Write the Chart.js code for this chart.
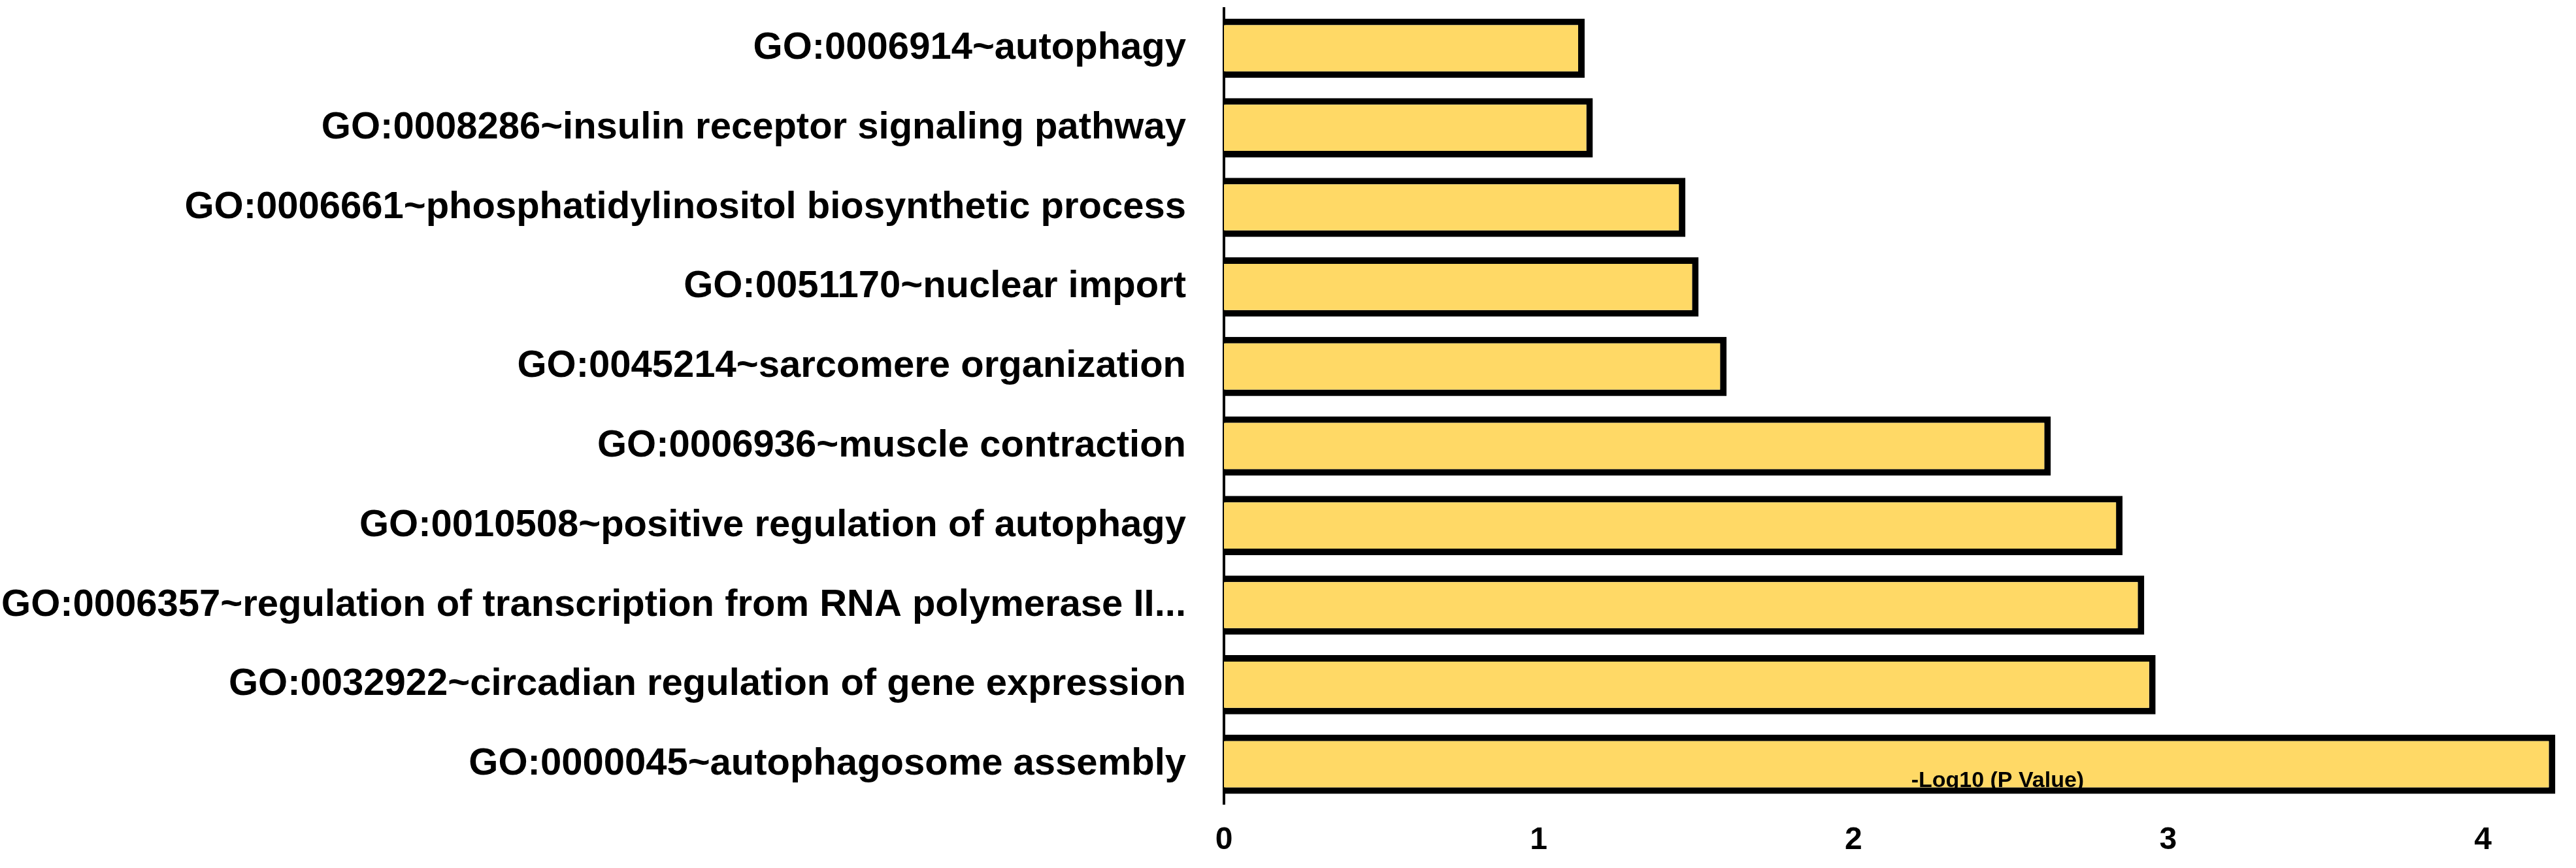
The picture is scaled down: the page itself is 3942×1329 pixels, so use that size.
<!DOCTYPE html>
<html>
<head>
<meta charset="utf-8">
<script src="https://cdn.jsdelivr.net/npm/chart.js@4"></script>
<style>
  html, body { margin: 0; padding: 0; background: #fff; }
  #wrap { width: 3942px; height: 1329px; }
</style>
</head>
<body>
<div id="wrap"><canvas id="chart"></canvas></div>
<script>
const terms = [
  "GO:0006914~autophagy",
  "GO:0008286~insulin receptor signaling pathway",
  "GO:0006661~phosphatidylinositol biosynthetic process",
  "GO:0051170~nuclear import",
  "GO:0045214~sarcomere organization",
  "GO:0006936~muscle contraction",
  "GO:0010508~positive regulation of autophagy",
  "GO:0006357~regulation of transcription from RNA polymerase II...",
  "GO:0032922~circadian regulation of gene expression",
  "GO:0000045~autophagosome assembly"
];
const logP = [1.146, 1.172, 1.466, 1.508, 1.597, 2.627, 2.855, 2.924, 2.96, 4.23];
const xTicks = [0, 1, 2, 3, 4];
const axisTitle = "-Log10 (P Value)";

const FONT = "'Liberation Sans', Arial, sans-serif";

// axis title sits inside the plot, over the last bar, like the original
const titlePlugin = {
  id: 'inlineTitle',
  afterDatasetsDraw(chart) {
    const ctx = chart.ctx;
    const x = chart.scales.x.getPixelForValue(2.458);
    const y = chart.chartArea.bottom - 35;
    ctx.save();
    ctx.font = "bold 34px " + FONT;
    ctx.fillStyle = '#000';
    ctx.textAlign = 'center';
    ctx.textBaseline = 'middle';
    ctx.fillText(axisTitle, x, y);
    ctx.restore();
  }
};

const ctx = document.getElementById("chart").getContext('2d');
const chart = new Chart(ctx, {
  type: 'bar',
  data: {
    labels: terms,
    datasets: [{
      label: axisTitle,
      data: logP,
      backgroundColor: '#FFD966',
      borderColor: '#000000',
      borderWidth: 10,
      borderSkipped: 'left',
      categoryPercentage: 1.0,
      barPercentage: 0.745
    }]
  },
  options: {
    indexAxis: 'y',
    responsive: true,
    maintainAspectRatio: false,
    animation: false,
    layout: { padding: { top: 13, right: 22, bottom: 0, left: 0 } },
    plugins: {
      legend: { display: false },
      tooltip: { enabled: false }
    },
    scales: {
      x: {
        min: 0,
        max: 4.25,
        grid: { display: false, drawTicks: false },
        border: { display: false },
        afterBuildTicks: (scale) => {
          scale.ticks = xTicks.map(v => ({ value: v }));
        },
        afterFit: (scale) => {
          scale.height = 98;
          scale.paddingLeft = 0;
          scale.paddingRight = 0;
        },
        ticks: {
          padding: 27,
          color: '#000',
          font: { family: FONT, size: 48, weight: 'bold' }
        }
      },
      y: {
        grid: { display: false, drawTicks: false },
        border: { display: true, color: '#000', width: 4 },
        afterFit: (scale) => {
          scale.width = 1873;
          scale.paddingTop = 0;
          scale.paddingBottom = 0;
        },
        ticks: {
          padding: 58,
          autoSkip: false,
          color: '#000',
          font: { family: FONT, size: 58, weight: 'bold' }
        }
      }
    }
  },
  plugins: [titlePlugin]
});
</script>
</body>
</html>
